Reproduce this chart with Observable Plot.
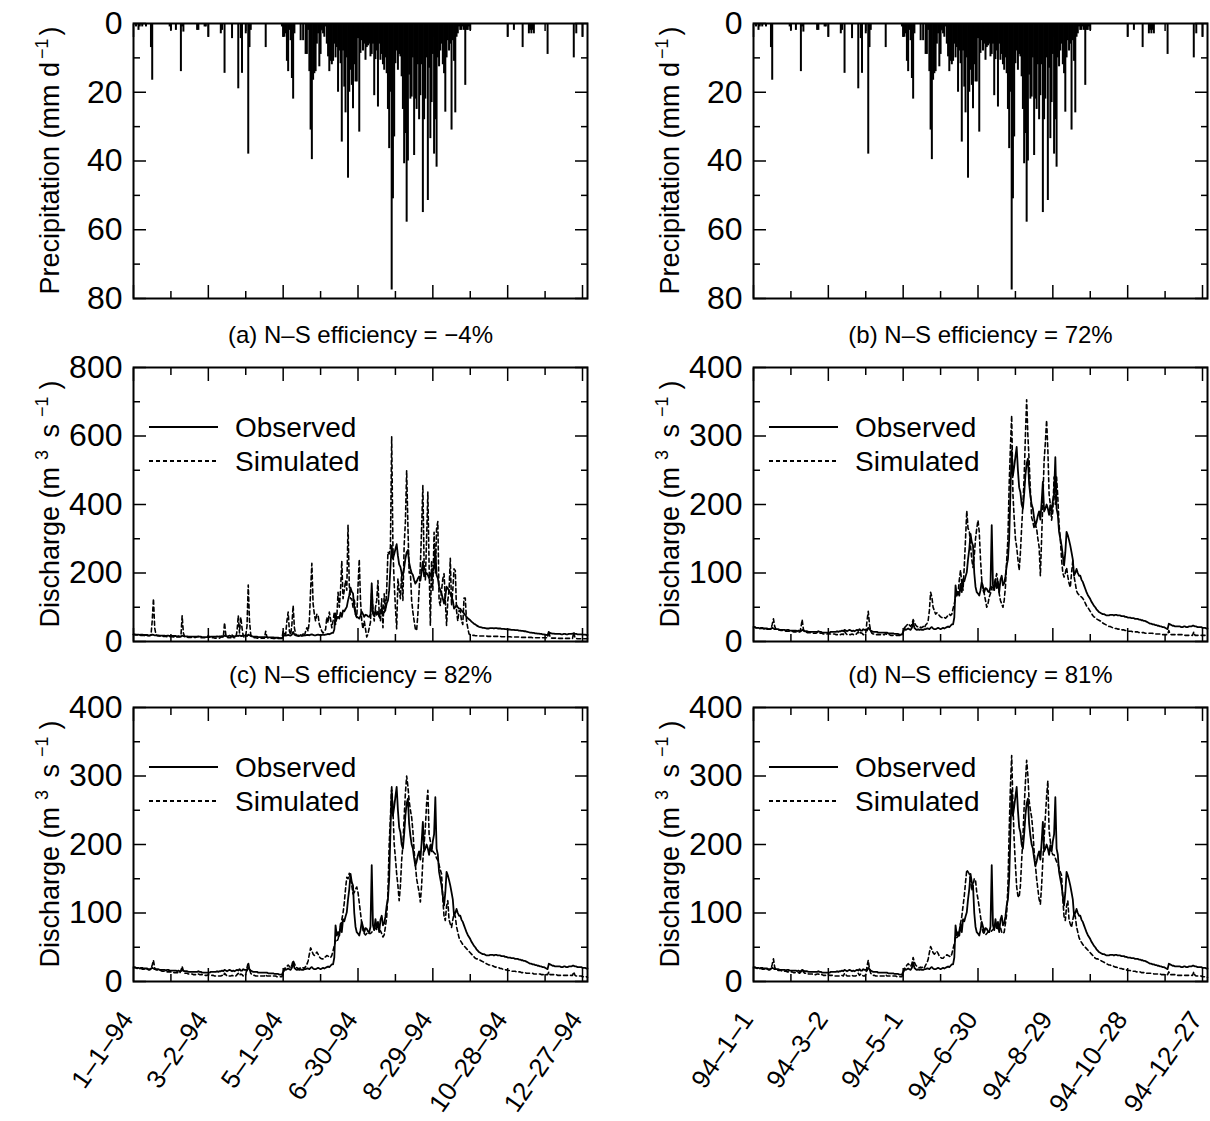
<!DOCTYPE html>
<html><head><meta charset="utf-8">
<script src="https://cdn.jsdelivr.net/npm/d3@7"></script>
<script src="https://cdn.jsdelivr.net/npm/@observablehq/plot@0.6"></script>
<style>
body{margin:0;background:#fff;}
#wrap{position:relative;width:1210px;height:1121px;overflow:hidden;background:#fff;}
#wrap svg{position:absolute;overflow:visible;}
</style></head><body><div id="wrap"></div>
<script>
// ---- daily precipitation (mm/d), 1994, day index 0..364
const precip = [
0,0,1,0,2,1,0,1,0,0,
1,0,0,0,7,16.5,0,0,0,0,
0,0,0,0,0,0,0,0,0,1,
2,0,0,0,2,0,0,0,14,1,
2.5,0,0,0,0,0,0,0,0,0,
0,2,2,0,0,0,0,1,1,0,
4,0,0,0,0,0,0,0,0,0,
3,2,0,14.5,0,0,0,0,0,4.4,
0,0,0,0,19,0,4.4,14.5,0,0,
3,0,38,7,2,0,0,0,0,0,
0,0,0,0,0,0,7,0,0,0,
0,0,0,0,0,0,0,0,0,1,
4,4,3,11,14,2,5,16,22,3,
0,0,0,0,5,0,5,0,9,9,
2,14,31,39.6,16.5,14.6,14,6,3,12.6,
9,2,3,4,1,6,9.7,14,11,12,
11,6,10,7,20,8,11.7,34.5,8,18.5,
26,10,45,20,13.6,18,24.8,12,17,17,
4.4,31.6,8.7,5,8,6,10.7,7,6.5,6,
9.7,9,6,21,10.5,8,24.3,6,10.7,9,
12,13.6,10,14.6,25,36.4,20,77.5,51,33,
11.7,8,13.6,9,9.7,15.5,25,40.8,32,57.8,
40,15,22,21.4,10,38.4,22,25,12,28,
21,12,55,28,22,10,51.5,13,33.5,23,
9,38,28,41.8,10,12.6,8,6,12,14.6,
25.8,10,5,8,6,31,5,11,26,4,
3,1,2,2,1,2,18,2,2,1,
2,0,0,0,0,0,0,0,0,0,
0,0,0,0,0,0,0,0,0,0,
0,0,0,0,0,0,0,0,0,0,
4,0,0,0,0,2,0,0,0,0,
0,0,7,0,0,0,0,3,2,3,
2,3,0,0,0,0,0,0,0,0,
0,0,9,0,0,0,0,0,0,0,
0,0,0,0,0,0,0,0,0,0,
0,0,0,10,0,3,0,0,0,0,
4,0,0,0,0];

// ---- observed discharge (m3/s)
const observed = [
21,21,20,20,20,19,20,20,19,19,
19,19,18,18,19,20,19,18,18,18,
18,17,17,17,17,17,16,17,17,16,
16,16,16,16,16,15,16,15,15,17,
16,15,15,15,14,14,14,14,14,14,
14,14,15,14,14,13,13,13,13,13,
13,13,14,14,14,14,14,15,14,15,
15,16,15,17,16,15,16,17,16,15,
16,15,16,17,16,18,16,16,18,17,
17,16,20,18,16,15,14,14,14,14,
13,13,13,13,13,13,13,13,12,12,
12,12,12,11,11,11,11,10,10,10,
14,19,17,18,19,18,17,20,28,20,
18,17,18,17,18,17,17,18,18,19,
19,18,20,21,19,18,18,19,20,19,
18,19,20,19,20,21,22,21,23,25,
25,35,82,67,72,67,84,72,91,88,
95,101,120,135,157,145,140,100,80,72,
70,67,75,87,80,72,78,77,73,72,
80,170,82,75,91,78,87,72,90,96,
82,85,95,111,120,150,218,279,242,255,
270,284,250,225,218,200,194,215,242,260,
267,230,213,200,194,180,169,175,184,190,
178,203,233,190,194,200,194,185,199,190,
205,215,269,194,185,160,150,140,125,111,
130,160,155,148,140,130,120,96,100,106,
100,96,96,90,87,82,77,72,68,65,
62,58,55,52,50,47,45,43,42,41,
40,40,39,38,38,38,39,39,39,38,
39,39,38,38,38,37,37,37,36,36,
35,35,35,34,34,34,33,33,33,32,
32,31,31,30,30,29,28,27,26,26,
25,25,24,24,23,23,22,22,21,21,
20,19,18,26,25,24,23,23,22,22,
22,22,22,21,21,22,22,21,21,22,
22,22,23,23,22,22,21,21,21,21,
20,20,20,19,19];

// ---- simulated discharge, panel (a)
const simA = [
20,20,19,19,19,18,18,18,18,17,
17,17,17,17,18,60,125,40,20,17,
16,16,15,15,15,15,15,14,14,14,
14,14,13,13,14,13,13,13,14,75,
25,14,13,13,12,12,12,12,12,12,
12,14,14,12,11,11,11,11,11,11,
18,12,11,11,11,10,10,10,10,10,
12,14,12,55,20,12,11,11,11,20,
12,11,11,30,76,25,71,40,15,12,
18,45,165,60,20,14,12,11,11,10,
10,10,10,10,10,10,30,12,10,10,
10,10,9,9,9,9,9,9,9,9,
30,25,20,60,86,30,20,50,105,40,
22,18,16,15,20,16,22,16,30,40,
30,60,150,228,110,80,60,80,76,50,
40,30,25,30,35,71,55,86,66,40,
60,86,50,70,144,100,150,235,125,149,
178,150,340,164,125,125,100,125,80,70,
160,240,120,60,37,60,37,13,22,40,
56,149,90,60,100,120,178,80,60,125,
40,139,90,150,261,256,275,598,275,170,
100,37,183,150,125,200,120,280,350,499,
339,200,202,120,86,60,37,32,80,150,
222,330,455,222,180,300,436,222,47,236,
150,319,200,329,350,120,105,150,183,198,
120,47,120,150,243,105,150,212,207,90,
60,90,90,60,50,127,127,60,40,22,
20,19,18,18,17,17,17,16,16,16,
16,16,16,16,15,15,15,15,15,15,
15,15,15,15,15,14,14,14,14,14,
14,14,14,13,13,13,13,13,13,13,
13,12,12,12,12,12,12,12,12,12,
11,11,11,11,11,11,11,11,11,11,
11,11,11,32,12,10,10,10,10,10,
10,9,9,9,9,9,9,9,9,9,
9,9,9,27,10,9,8,8,8,8,
8,8,8,8,8];

// ---- simulated discharge, panel (b)
const simB = [
21,21,20,20,20,19,19,19,19,18,
18,18,18,18,18,25,33,22,18,17,
17,17,16,16,16,16,15,15,15,15,
15,15,14,14,14,14,14,14,20,32,
18,14,14,13,13,13,13,12,12,12,
12,13,13,12,12,12,11,11,11,11,
12,11,11,11,11,11,10,10,10,10,
10,11,10,15,12,10,10,10,10,11,
10,10,10,12,14,11,13,12,10,10,
12,30,44,25,15,12,11,11,10,10,
10,10,10,10,10,10,12,10,10,10,
9,9,9,9,9,9,9,9,9,9,
14,20,22,24,26,24,22,25,32,28,
24,22,21,20,21,20,22,20,24,26,
30,45,72,65,50,45,40,42,40,38,
36,35,34,35,34,36,38,40,38,40,
48,55,65,74,70,90,104,85,75,110,
150,191,165,162,140,120,108,125,150,165,
177,160,120,90,75,70,60,50,55,65,
70,80,75,85,90,99,85,70,60,55,
50,60,80,118,150,230,284,330,215,180,
150,138,120,104,130,167,200,240,300,353,
300,264,220,181,175,165,170,165,150,138,
96,150,206,264,290,323,280,215,200,177,
190,240,200,240,210,170,150,120,100,94,
100,108,95,85,79,100,118,95,85,74,
70,68,66,65,63,60,56,52,50,47,
44,41,38,36,35,33,32,31,30,29,
27,26,25,24,23,22,22,21,20,20,
19,19,18,18,18,17,17,17,16,16,
15,15,15,15,14,14,14,14,14,13,
13,13,13,13,12,12,12,12,12,12,
12,11,11,11,11,11,11,11,10,10,
10,10,10,16,11,10,10,10,10,10,
10,10,10,10,10,10,9,9,9,9,
9,9,9,14,9,9,9,9,9,9,
9,9,9,9,9];

// ---- simulated discharge, panel (c)
const simC = [
20,20,20,19,19,19,19,18,18,18,
18,18,17,17,18,24,31,20,17,17,
16,16,16,15,15,15,15,14,14,14,
14,14,13,13,13,13,13,12,16,22,
15,12,12,12,11,11,11,11,10,10,
10,11,11,10,10,10,9,9,9,9,
10,9,9,9,9,8,8,8,8,8,
8,9,8,12,10,8,8,8,8,9,
8,8,8,10,12,9,11,10,8,8,
10,20,28,18,12,10,9,9,8,8,
8,8,8,8,8,8,10,8,8,8,
8,8,8,8,8,7,7,7,7,7,
12,18,20,22,24,22,20,24,31,26,
22,20,19,19,20,19,20,19,22,25,
30,40,49,45,40,38,40,43,40,36,
34,33,33,35,36,38,37,36,35,38,
45,52,60,58,62,70,80,90,100,115,
135,152,150,158,150,140,128,130,135,138,
130,115,100,85,75,70,68,70,72,70,
70,72,74,76,78,76,75,74,74,70,
65,68,80,94,130,200,240,286,250,201,
180,157,140,118,140,177,200,240,275,300,
285,264,250,240,220,191,170,150,140,130,
116,140,177,200,225,260,279,215,205,196,
190,188,186,180,177,170,163,157,120,95,
89,110,118,90,84,79,90,99,95,80,
72,64,60,57,54,52,50,48,46,44,
42,40,38,36,34,33,33,32,31,30,
29,28,27,26,25,24,24,23,23,22,
21,21,20,20,19,19,18,18,17,17,
16,16,16,15,15,15,15,14,14,14,
14,13,13,13,13,12,12,12,12,12,
12,11,11,11,11,11,11,10,10,10,
10,10,10,14,10,10,10,10,10,10,
9,9,9,9,9,9,9,9,9,9,
9,9,9,14,9,8,8,8,8,8,
7,7,7,7,6];

// ---- simulated discharge, panel (d)
const simD = [
20,20,20,19,19,19,19,18,18,18,
18,18,17,17,18,25,33,21,17,17,
16,16,16,15,15,15,15,14,14,14,
14,14,13,13,13,13,13,12,14,17,
14,12,12,12,11,11,11,11,10,10,
10,11,11,10,10,10,9,9,9,9,
10,9,9,9,9,8,8,8,8,8,
8,9,8,12,10,8,8,8,8,9,
8,8,8,10,12,9,11,10,8,8,
10,22,31,18,12,10,9,9,8,8,
8,8,8,8,8,8,10,8,8,8,
8,8,8,8,8,7,7,7,7,7,
12,18,21,24,26,24,22,26,35,28,
24,22,21,20,21,20,22,20,24,27,
32,42,51,47,42,40,42,44,41,37,
35,34,34,36,37,39,38,37,36,40,
48,55,66,64,66,74,85,95,110,125,
145,163,160,157,148,133,140,150,148,130,
120,108,95,82,72,70,68,70,72,72,
72,74,76,78,80,79,77,76,79,72,
70,72,85,99,140,220,284,330,260,206,
170,138,125,123,140,177,210,255,290,323,
300,264,250,240,220,190,170,150,135,120,
113,140,177,210,240,270,293,220,205,190,
185,185,180,175,172,165,160,155,120,95,
89,110,118,90,84,79,90,99,95,80,
72,64,60,57,54,52,50,48,46,44,
42,40,38,36,34,33,33,32,31,30,
29,28,27,26,25,24,24,23,23,22,
21,21,20,20,19,19,18,18,17,17,
16,16,16,15,15,15,15,14,14,14,
14,13,13,13,13,12,12,12,12,12,
12,11,11,11,11,11,11,10,10,10,
10,10,10,14,10,10,10,10,10,10,
9,9,9,9,9,9,9,9,9,9,
9,9,9,14,9,8,8,8,8,8,
7,7,7,7,6];

const majorDays = [0, 60, 120, 180, 240, 300, 360];
const minorDays = [30, 90, 150, 210, 270, 330];
const leftDateLabels = ["1–1–94", "3–2–94", "5–1–94", "6–30–94", "8–29–94", "10–28–94", "12–27–94"];
const rightDateLabels = ["94–1–1", "94–3–2", "94–5–1", "94–6–30", "94–8–29", "94–10–28", "94–12–27"];
const panelTitles = ["(a) N–S efficiency = −4%", "(b) N–S efficiency = 72%", "(c) N–S efficiency = 82%", "(d) N–S efficiency = 81%"];
const legendLabels = ["Observed", "Simulated"];

for (const [n, a] of Object.entries({precip, observed, simA, simB, simC, simD})) {
  if (a.length !== 365) throw new Error(n + " has length " + a.length);
}
const days = d3.range(365);

const FONT = "'Liberation Sans', Arial, Helvetica, sans-serif";
const wrap = document.getElementById("wrap");

function panel(cfg) {
  const {left, top, width, height, ml, mt, mr, mb, yDomain, reverse, yMajor, yMinor, marks, title, xLabels, ylabel, legend} = cfg;
  const tick = {stroke: "black", strokeWidth: 1.5, fill: "none", label: null};
  const all = [
    ...marks,
    Plot.axisX(majorDays, {anchor: "bottom", tickSize: -13, ...tick}),
    Plot.axisX(minorDays, {anchor: "bottom", tickSize: -7, ...tick}),
    Plot.axisX(majorDays, {anchor: "top", tickSize: -13, ...tick}),
    Plot.axisX(minorDays, {anchor: "top", tickSize: -7, ...tick}),
    Plot.axisY(yMajor, {anchor: "left", tickSize: -13, ...tick}),
    Plot.axisY(yMinor, {anchor: "left", tickSize: -7, ...tick}),
    Plot.axisY(yMajor, {anchor: "right", tickSize: -13, ...tick}),
    Plot.axisY(yMinor, {anchor: "right", tickSize: -7, ...tick}),
    Plot.axisY(yMajor, {anchor: "left", tickSize: 0, tickPadding: 11, fill: "black", fontSize: 32, label: null}),
    Plot.frame({stroke: "black", strokeWidth: 2})
  ];
  if (title) all.push(Plot.text([title], {frameAnchor: "top", lineAnchor: "middle", dy: -32, fontSize: 24, fill: "black"}));
  if (xLabels) all.push(Plot.text(majorDays, {
    x: d => d, frameAnchor: "bottom", text: d => xLabels[majorDays.indexOf(d)],
    rotate: -55, textAnchor: "end", lineAnchor: "middle", dx: -6, dy: 33, fontSize: 26, fill: "black"
  }));
  const svg = Plot.plot({
    width, height, marginLeft: ml, marginTop: mt, marginRight: mr, marginBottom: mb,
    x: {domain: [0, 364], axis: null},
    y: {domain: yDomain, reverse: !!reverse, axis: null},
    style: {fontFamily: FONT, fontSize: "28px", color: "black", background: "transparent", overflow: "visible"},
    marks: all
  });
  svg.style.left = left + "px";
  svg.style.top = top + "px";
  const s = d3.select(svg);
  // y-axis label with superscripts
  const cy = mt + (height - mt - mb) / 2;
  const t = s.append("text")
    .attr("transform", `translate(50,${cy}) rotate(-90)`)
    .attr("text-anchor", "middle").attr("dy", "0.35em")
    .attr("font-family", FONT).attr("font-size", 27).attr("fill", "black");
  for (const part of ylabel) {
    const ts = t.append("tspan").text(part.t);
    if (part.sup) ts.attr("dy", -11).attr("dx", part.gap).attr("font-size", 18);
    else if (part.after) ts.attr("dy", 11).attr("dx", part.gap);
  }
  if (legend) {
    const x0 = ml;
    [[legendLabels[0], null, 60], [legendLabels[1], "4,3", 94]].forEach(([lab, dash, oy]) => {
      s.append("line").attr("x1", x0 + 16).attr("x2", x0 + 85).attr("y1", mt + oy).attr("y2", mt + oy)
        .attr("stroke", "black").attr("stroke-width", 1.8).attr("stroke-dasharray", dash);
      s.append("text").attr("x", x0 + 102).attr("y", mt + oy).attr("dy", "0.35em")
        .attr("text-anchor", "start")
        .attr("font-family", FONT).attr("font-size", 28).attr("fill", "black").text(lab);
    });
  }
  wrap.appendChild(svg);
}

const precipLabel = [{t: "Precipitation (mm d"}, {t: "−1", sup: true, gap: 3}, {t: ")", after: true, gap: 3}];
const qLabel = [{t: "Discharge (m"}, {t: "3", sup: true, gap: 7}, {t: " s", after: true, gap: 5}, {t: "−1", sup: true, gap: 7}, {t: ")", after: true, gap: 7}];

function precipMarks() {
  return [Plot.ruleX(days, {filter: d => precip[d] > 0, x: d => d, y1: 0, y2: d => precip[d], stroke: "black", strokeWidth: 2})];
}
function qMarks(sim) {
  return [
    Plot.line(days, {x: d => d, y: d => sim[d], stroke: "black", strokeWidth: 1.6, strokeDasharray: "4,3"}),
    Plot.line(days, {x: d => d, y: d => observed[d], stroke: "black", strokeWidth: 1.8})
  ];
}

const cols = [{left: 0, width: 600, mr: 13}, {left: 620, width: 590, mr: 3}];
const rows = [{top: 0, height: 310, mt: 23, mb: 12}, {top: 310, height: 345, mt: 57, mb: 14}, {top: 655, height: 466, mt: 52, mb: 140}];
const sims = [[simA, simB], [simC, simD]];
const q400 = {yDomain: [0, 400], yMajor: [0, 100, 200, 300, 400], yMinor: [50, 150, 250, 350]};
const q800 = {yDomain: [0, 800], yMajor: [0, 200, 400, 600, 800], yMinor: [100, 300, 500, 700]};

cols.forEach((c, ci) => {
  panel({...c, ...rows[0], ml: 133, yDomain: [0, 80], reverse: true, yMajor: [0, 20, 40, 60, 80], yMinor: [10, 30, 50, 70],
    marks: precipMarks(), ylabel: precipLabel});
  panel({...c, ...rows[1], ml: 133, ...(ci === 0 ? q800 : q400), marks: qMarks(sims[0][ci]),
    title: panelTitles[ci], ylabel: qLabel, legend: true});
  panel({...c, ...rows[2], ml: 133, ...q400, marks: qMarks(sims[1][ci]),
    title: panelTitles[2 + ci], ylabel: qLabel, legend: true, xLabels: ci === 0 ? leftDateLabels : rightDateLabels});
});
</script></body></html>
